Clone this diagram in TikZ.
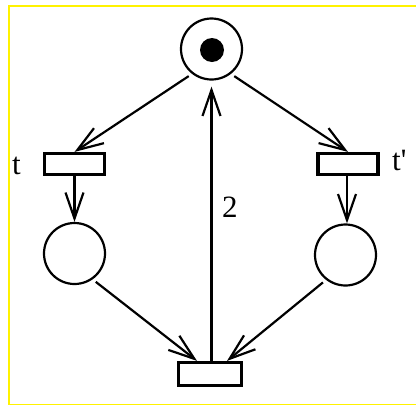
\documentclass[tikz,border=0pt]{standalone}
\usepackage{fontspec}
\setmainfont{Liberation Serif}
\usetikzlibrary{arrows.meta}
\begin{document}
\begin{tikzpicture}[x=1pt,y=-1pt,
  place/.style={circle,draw,line width=2.2pt,inner sep=0pt,minimum size=61pt},
  trans/.style={rectangle,draw,line width=3.2pt,inner sep=0pt,minimum width=60pt,minimum height=21pt},
  arc/.style={line width=2.2pt,-{Straight Barb[length=26pt,width=18pt]}},
  lbl/.style={font=\fontsize{31}{36}\selectfont,inner sep=0pt,anchor=base west}]
\clip (0,0) rectangle (416,405);
\fill[white] (0,0) rectangle (416,405);
\draw[yellow,line width=2pt] (9,5.5) rectangle (440,404.5);
% places
\node[place] (top) at (211.5,49) {};
\node[circle,fill,inner sep=0pt,minimum size=24pt] (tok) at (212,50) {};
\node[place] (pl) at (74.5,253.5) {};
\node[place] (pr) at (345.5,255) {};
% transitions
\node[trans] (t) at (74.5,164) {};
\node[trans] (tp) at (348,164) {};
\node[trans,minimum width=63pt,minimum height=23pt] (b) at (210,374) {};
% labels
\node[lbl] (lt) at (12,174) {t};
\node[lbl] (ltp) at (392,170) {\addfontfeatures{Ligatures=TeXOff}t'};
\node[lbl] (l2) at (222,217) {2};
% arcs
\draw[arc,shorten <=4pt] (top.232) -- (t.north);
\draw[arc,shorten <=4pt] (top.308) -- (tp.north);
\draw[arc] (t.south) -- (pl.north);
\draw[arc] ([xshift=-1pt]tp.south) -- ([xshift=1.5pt]pr.north);
\draw[arc,shorten <=4pt] (pl.305) -- ([xshift=-13pt]b.north);
\draw[arc,shorten <=4pt] (pr.232) -- ([xshift=17pt]b.north);
\draw[arc,shorten >=6pt] (b.north -| top) -- (top.south);
\end{tikzpicture}
\end{document}
